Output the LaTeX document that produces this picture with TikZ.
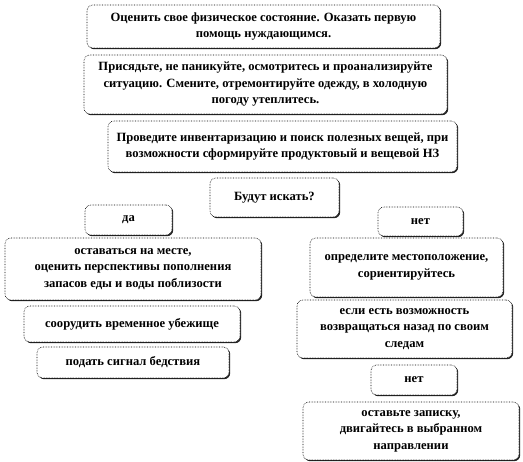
\documentclass[tikz,border=0pt]{standalone}
\usepackage{fontspec}
\setmainfont{Liberation Serif}
\usetikzlibrary{shadows}
\tikzset{
  box/.style={draw=black, densely dotted, line width=0.6pt, fill=white, rounded corners=6pt,
    align=center, inner sep=0pt, font=\bfseries\fontsize{12.6}{16.5}\selectfont,
    general shadow={shadow xshift=1.2pt, shadow yshift=-1.2pt, fill=black!85}}
}
\begin{document}
\begin{tikzpicture}[x=1pt,y=-1pt]
\useasboundingbox (0,0) rectangle (523,462);
\node[box, minimum width=353, minimum height=43] (b1) at (263.5,26.5)
  {Оценить свое физическое состояние. Оказать первую\\ помощь нуждающимся.};
\node[box, minimum width=363, minimum height=59] (b2) at (265.5,84.5)
  {Присядьте, не паникуйте, осмотритесь и проанализируйте\\ ситуацию. Смените, отремонтируйте одежду, в холодную\\ погоду утеплитесь.};
\node[box, minimum width=349, minimum height=51] (b3) at (282.5,146.5)
  {Проведите инвентаризацию и поиск полезных вещей, при\\ возможности сформируйте продуктовый и вещевой НЗ};
\node[box, minimum width=129, minimum height=39] (q) at (274.5,197.5) {Будут искать?};
\node[box, minimum width=87, minimum height=30] (yes) at (128.5,220) {да};
\node[box, minimum width=85, minimum height=29] (no) at (420.5,221.5) {нет};
\node[box, minimum width=256, minimum height=62] (l1) at (133,269)
  {оставаться на месте,\\ оценить перспективы пополнения\\ запасов еды и воды поблизости};
\node[box, minimum width=193, minimum height=59] (r1) at (406.5,267.5)
  {определите местоположение,\\ сориентируйтесь};
\node[box, minimum width=216, minimum height=36] (l2) at (132,324) {соорудить временное убежище};
\node[box, minimum width=215, minimum height=58] (r2) at (404.5,329)
  {если есть возможность\\ возвращаться назад по своим\\ следам};
\node[box, minimum width=192, minimum height=31] (l3) at (133,362.5) {подать сигнал бедствия};
\node[box, minimum width=86, minimum height=30] (no2) at (414,380) {нет};
\node[box, minimum width=216, minimum height=58] (r3) at (411,431)
  {оставьте записку,\\ двигайтесь в выбранном\\ направлении};
\end{tikzpicture}
\end{document}
